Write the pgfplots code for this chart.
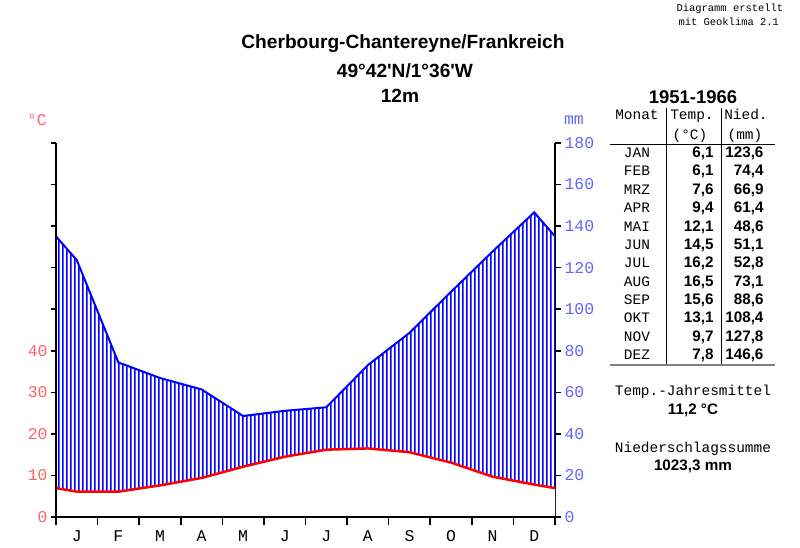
\documentclass[border=0pt]{standalone}
\usepackage{pgfplots}
\pgfplotsset{compat=1.18}
\usepackage{pgfplotstable}
\usetikzlibrary{patterns}
\usepackage{fontspec}
\setmainfont{Liberation Sans}
\newfontfamily\mono{Liberation Mono}

\definecolor{tlab}{RGB}{255,100,100}
\definecolor{plab}{RGB}{100,100,255}

% blue vertical hatching, 10 lines per month; one tile spans the full plot height
\pgfdeclarepatterninherentlycolored{vhatch}
  {\pgfpointorigin}{\pgfpoint{4.158bp}{400bp}}{\pgfpoint{4.158bp}{400bp}}
  {\pgfsetfillcolor{blue}%
   \pgfpathrectangle{\pgfpoint{0bp}{-1bp}}{\pgfpoint{2.1bp}{402bp}}%
   \pgfusepath{fill}}

% x: month centres at 0.5 ... 11.5, curve ends at the year boundary (0 and 12)
\pgfplotstableread{
x    t     p
0    6.95  135.1
0.5  6.1   123.6
1.5  6.1   74.4
2.5  7.6   66.9
3.5  9.4   61.4
4.5  12.1  48.6
5.5  14.5  51.1
6.5  16.2  52.8
7.5  16.5  73.1
8.5  15.6  88.6
9.5  13.1  108.4
10.5 9.7   127.8
11.5 7.8   146.6
12   6.95  135.1
}\klima

\newcommand\tickfont{\mono\fontsize{16.5}{18}\selectfont}
\newcommand\tabfont{\mono\fontsize{14.5}{16}\selectfont}
\newcommand\valfont{\bfseries\fontsize{15.3}{17}\selectfont}
\newcommand\titfont{\bfseries\fontsize{19.2}{21}\selectfont}

\pgfplotsset{
  klimaaxis/.style={
    at={(56bp,31bp)}, anchor=south west,
    scale only axis, width=499bp, height=374bp,
    xmin=0, xmax=12,
    axis line style={line width=2bp, -},
    tick style={black, line width=1.6bp},
    tick align=outside,
    /pgf/number format/assume math mode=true,
  },
}

\begin{document}
\begin{tikzpicture}
\useasboundingbox (0,0) rectangle (800bp,548bp);

% precipitation axis (right) with the curves
\begin{axis}[klimaaxis,
    ymin=0, ymax=180,
    axis y line*=right, axis x line=none,
    ytick={0,20,...,180},
    major tick length=6bp,
    y tick label style={font=\tickfont, text=plab},
  ]
  % hatched area under precipitation, then blank out the part under temperature
  \addplot[draw=none, pattern=vhatch] table[x=x, y=p] {\klima} \closedcycle;
  \addplot[draw=none, fill=white] table[x=x, y expr=2*\thisrow{t}] {\klima} \closedcycle;
  \addplot[blue, line width=2bp, mark=none] table[x=x, y=p] {\klima};
  \addplot[red, line width=2.5bp, mark=none] table[x=x, y expr=2*\thisrow{t}] {\klima};
\end{axis}

% month axis
\begin{axis}[klimaaxis,
    ymin=0, ymax=180,
    axis x line*=bottom, axis y line=none,
    xtick={0.5,1.5,...,11.5},
    xticklabels={J,F,M,A,M,J,J,A,S,O,N,D},
    major tick length=0bp,
    minor xtick={0,1,...,12}, minor tick length=8bp,
    x tick label style={font=\tickfont, anchor=mid, yshift=-22bp},
  ]
\end{axis}

% temperature axis (left)
\begin{axis}[klimaaxis,
    ymin=0, ymax=90,
    axis y line*=left, axis x line=none,
    ytick={0,10,...,90},
    yticklabels={0,10,20,30,40,,,,,},
    major tick length=5bp,
    y tick label style={font=\tickfont, text=tlab},
  ]
\end{axis}

\begin{scope}[x=1bp, y=1bp]
% axis units
\node[font=\tickfont, text=tlab] at (37,428) {°C};
\node[font=\tickfont, text=plab] at (574,428) {mm};

% titles
\node[font=\titfont] at (403,504) {Cherbourg-Chantereyne/Frankreich};
\node[font=\titfont] at (405,477) {49°42\textquotesingle N/1°36\textquotesingle W};
\node[font=\titfont] at (400,452) {12m};
\node[font=\mono\fontsize{10.5}{12}\selectfont, anchor=mid west] at (673,539) {Diagramm erstellt};
\node[font=\mono\fontsize{10.5}{12}\selectfont, anchor=mid west] at (675,525) {mit Geoklima 2.1};

% table
\node[font=\bfseries\fontsize{18.5}{20}\selectfont] at (693,451) {1951-1966};
\node[font=\tabfont, anchor=mid] at (637,431) {Monat};
\node[font=\tabfont, anchor=mid] at (692,431) {Temp.};
\node[font=\tabfont, anchor=mid] at (746,431) {Nied.};
\node[font=\tabfont, anchor=mid] at (690,411) {(°C)};
\node[font=\tabfont, anchor=mid] at (745,411) {(mm)};
\draw[line width=1bp] (610,403) -- (775,403);
\draw[line width=1bp] (666,440) -- (666,183);
\draw[line width=1bp] (721,440) -- (721,183);
\draw[gray, line width=2bp] (610,183) -- (775,183);
\foreach \m/\t/\p [count=\i from 0] in {
    JAN/{6,1}/{123,6}, FEB/{6,1}/{74,4}, MRZ/{7,6}/{66,9}, APR/{9,4}/{61,4},
    MAI/{12,1}/{48,6}, JUN/{14,5}/{51,1}, JUL/{16,2}/{52,8}, AUG/{16,5}/{73,1},
    SEP/{15,6}/{88,6}, OKT/{13,1}/{108,4}, NOV/{9,7}/{127,8}, DEZ/{7,8}/{146,6}} {
  \pgfmathsetmacro\yy{548-155-18.36*\i}
  \node[font=\tabfont, anchor=mid] at (637,\yy) {\m};
  \node[font=\valfont, anchor=mid east] at (717,\yy) {\t};
  \node[font=\valfont, anchor=mid east] at (767,\yy) {\p};
}

\node[font=\tabfont, anchor=mid] at (693,155) {Temp.-Jahresmittel};
\node[font=\valfont, anchor=mid] at (693,136) {11,2 °C};
\node[font=\tabfont, anchor=mid] at (693,98) {Niederschlagssumme};
\node[font=\valfont, anchor=mid] at (693,80) {1023,3 mm};
\end{scope}
\end{tikzpicture}
\end{document}
